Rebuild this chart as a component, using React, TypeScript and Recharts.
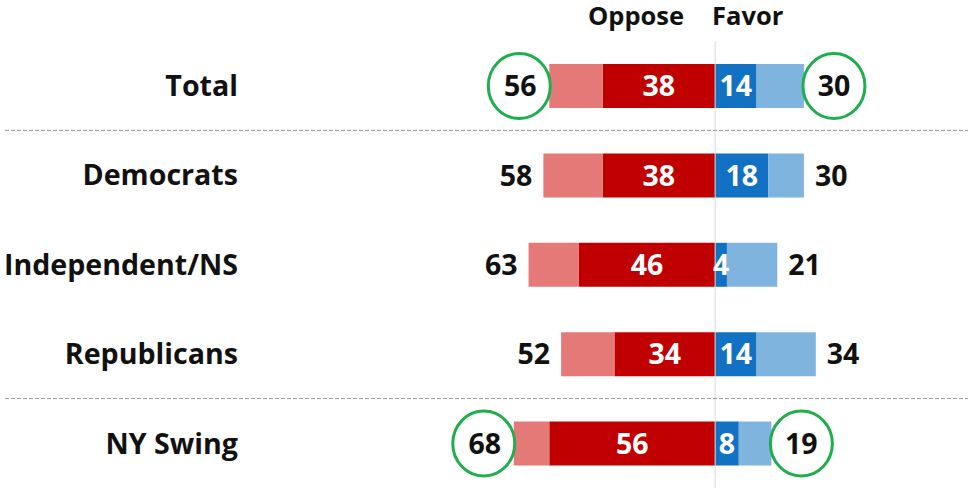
import React from "react";
import {
  BarChart,
  Bar,
  XAxis,
  YAxis,
  LabelList,
  ReferenceLine,
} from "recharts";

const categories = ["Total", "Democrats", "Independent/NS", "Republicans", "NY Swing"];
const opposeStrong = [38, 38, 46, 34, 56];
const opposeTotal = [56, 58, 63, 52, 68];
const favorStrong = [14, 18, 4, 14, 8];
const favorTotal = [30, 30, 21, 34, 19];
const circled = ["Total", "NY Swing"];
const dividerBefore = ["Democrats", "NY Swing"];

const FONT = "'Open Sans', 'Noto Sans', sans-serif";
const WIDTH = 968;
const HEIGHT = 489;
const MARGIN = { top: 41, right: 16, bottom: 1, left: 0 };
const HALF_BAND = (HEIGHT - MARGIN.top - MARGIN.bottom) / categories.length / 2;

// stackOffset="sign" stacks negatives leftwards, strong segment nearest zero
const data = categories.map((group, i) => ({
  group,
  opposeStrongNeg: -opposeStrong[i],
  opposeSoftNeg: -(opposeTotal[i] - opposeStrong[i]),
  favorStrong: favorStrong[i],
  favorSoft: favorTotal[i] - favorStrong[i],
  opposeStrong: opposeStrong[i],
  opposeTotal: opposeTotal[i],
  favorTotal: favorTotal[i],
}));

function GroupTick({ y, payload }: any) {
  const name = payload?.value;
  return (
    <g>
      {dividerBefore.includes(name) && (
        <line
          x1={5}
          x2={WIDTH}
          y1={y - HALF_BAND}
          y2={y - HALF_BAND}
          stroke="#9a9a9a"
          strokeDasharray="4 2"
        />
      )}
      <text
        x={238}
        y={y}
        dy="0.36em"
        textAnchor="end"
        fontFamily={FONT}
        fontWeight={700}
        fontSize={28.6}
        fill="#111"
      >
        {name}
      </text>
    </g>
  );
}

function InnerLabel({ x, y, width, height, value }: any) {
  return (
    <text
      x={x + width / 2}
      y={y + height / 2}
      dy="0.36em"
      textAnchor="middle"
      fontFamily={FONT}
      fontWeight={700}
      fontSize={28.5}
      fill="#fff"
    >
      {value}
    </text>
  );
}

function OuterLabel({ x, y, width, height, value, index, side }: any) {
  const left = Math.min(x, x + width);
  const right = Math.max(x, x + width);
  const cy = y + height / 2;
  const ring = circled.includes(categories[index]);
  if (ring) {
    const cx = side === "left" ? left - 30 : right + 30;
    return (
      <g>
        <ellipse cx={cx} cy={cy} rx={31} ry={32.5} fill="#fff" stroke="#1fae4c" strokeWidth={3} />
        <text
          x={cx + (side === "left" ? 1 : 0)}
          y={cy}
          dy="0.36em"
          textAnchor="middle"
          fontFamily={FONT}
          fontWeight={700}
          fontSize={28.5}
          fill="#111"
        >
          {value}
        </text>
      </g>
    );
  }
  return (
    <text
      x={side === "left" ? left - 11 : right + 11}
      y={cy}
      dy="0.36em"
      textAnchor={side === "left" ? "end" : "start"}
      fontFamily={FONT}
      fontWeight={700}
      fontSize={28.5}
      fill="#111"
    >
      {value}
    </text>
  );
}

function HeaderLabel({ viewBox }: any) {
  const cx = viewBox?.x ?? 715;
  return (
    <g fontFamily={FONT} fontWeight={700} fontSize={25.5} fill="#111">
      <text x={cx - 31} y={25} textAnchor="end">
        Oppose
      </text>
      <text x={cx - 3} y={25} textAnchor="start">
        Favor
      </text>
    </g>
  );
}

export default function App() {
  return (
    <div style={{ position: "absolute", left: 0, top: 0, width: WIDTH, height: HEIGHT, background: "#fff" }}>
      <BarChart
        width={WIDTH}
        height={HEIGHT}
        data={data}
        layout="vertical"
        stackOffset="sign"
        margin={MARGIN}
        barSize={44}
      >
        <XAxis type="number" domain={[-100, 80]} hide />
        <YAxis
          type="category"
          dataKey="group"
          width={419}
          axisLine={false}
          tickLine={false}
          interval={0}
          tick={<GroupTick />}
        />
        <Bar dataKey="opposeStrongNeg" stackId="a" fill="#c00000" isAnimationActive={false}>
          <LabelList dataKey="opposeStrong" content={<InnerLabel />} />
        </Bar>
        <Bar dataKey="opposeSoftNeg" stackId="a" fill="#e57977" isAnimationActive={false}>
          <LabelList dataKey="opposeTotal" content={<OuterLabel side="left" />} />
        </Bar>
        <Bar dataKey="favorStrong" stackId="a" fill="#1271c2" isAnimationActive={false}>
          <LabelList dataKey="favorStrong" content={<InnerLabel />} />
        </Bar>
        <Bar dataKey="favorSoft" stackId="a" fill="#7fb4de" isAnimationActive={false}>
          <LabelList dataKey="favorTotal" content={<OuterLabel side="right" />} />
        </Bar>
        <ReferenceLine x={0} stroke="#d9d9d9" strokeWidth={1} label={<HeaderLabel />} />
      </BarChart>
    </div>
  );
}
